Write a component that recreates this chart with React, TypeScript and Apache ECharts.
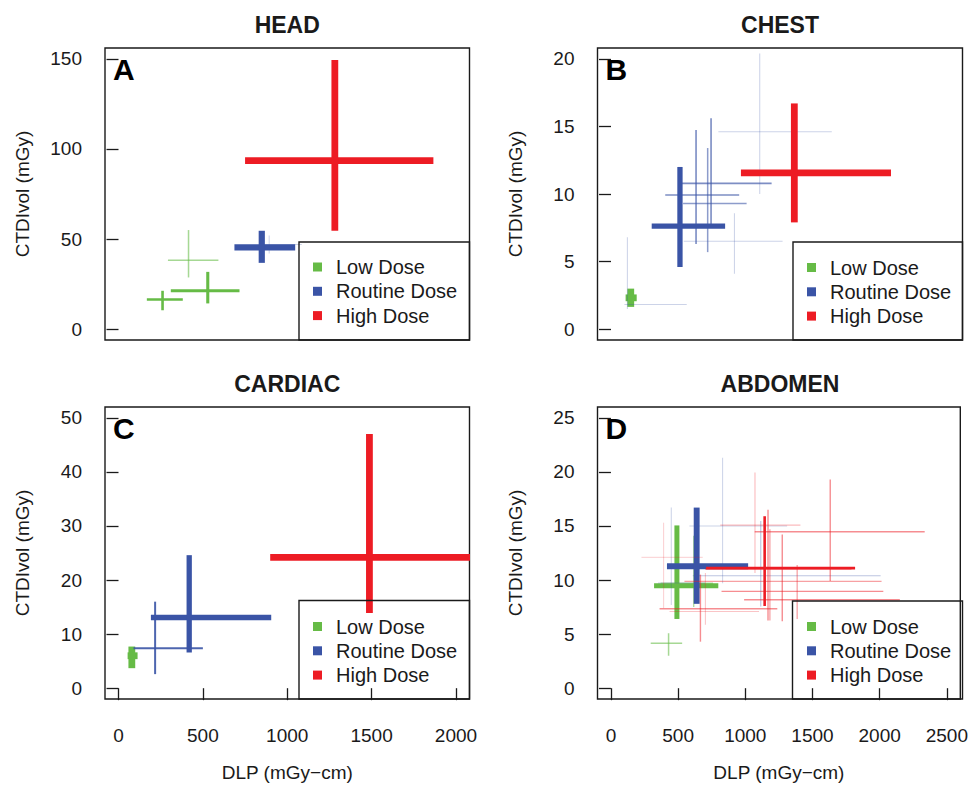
import { useEffect, useRef } from 'react';
import * as echarts from 'echarts';

// Each cross: [DLP median, CTDIvol median, DLP low, DLP high, CTDIvol low, CTDIvol high, relative volume]
type Cross = [number, number, number, number, number, number, number];

const doseNames = ['Low Dose', 'Routine Dose', 'High Dose'];
const doseColors = ['#66BB46', '#3A54A6', '#ED1C24'];
const panelTitles = ['HEAD', 'CHEST', 'CARDIAC', 'ABDOMEN'];
const panelLetters = ['A', 'B', 'C', 'D'];

const xTicksLeft = [0, 500, 1000, 1500, 2000];
const xTicksRight = [0, 500, 1000, 1500, 2000, 2500];
const yTicksHead = [0, 50, 100, 150];
const yTicksChest = [0, 5, 10, 15, 20];
const yTicksCardiac = [0, 10, 20, 30, 40, 50];
const yTicksAbdomen = [0, 5, 10, 15, 20, 25];

const headLow: Cross[] = [
  [415, 38.2, 293, 592, 28.7, 55.0, 0.12],
  [261, 16.5, 168, 381, 10.5, 21.3, 0.3],
  [529, 21.3, 310, 717, 14.3, 31.8, 0.38],
];
const headRoutine: Cross[] = [
  [893, 47.0, 839, 1086, 42.0, 52.0, 0.04],
  [849, 45.4, 687, 1047, 36.8, 54.6, 0.9],
];
const headHigh: Cross[] = [[1282, 93.5, 750, 1866, 54.6, 149.4, 1]];

const chestLow: Cross[] = [[146, 2.32, 108, 190, 1.65, 3.0, 1]];
const chestRoutine: Cross[] = [
  [1100, 14.6, 794, 1633, 10.0, 20.4, 0.04],
  [913, 6.5, 538, 1269, 4.1, 8.57, 0.04],
  [121, 1.83, 99, 560, 1.5, 6.8, 0.04],
  [715, 9.3, 533, 1003, 5.7, 13.4, 0.12],
  [629, 9.93, 401, 948, 6.3, 14.74, 0.14],
  [740, 10.79, 523, 1188, 7.7, 15.6, 0.14],
  [510, 7.63, 301, 844, 4.6, 12.0, 0.75],
];
const chestHigh: Cross[] = [[1356, 11.56, 961, 2071, 7.9, 16.7, 1]];

const cardiacLow: Cross[] = [[79, 6.0, 54, 113, 3.7, 7.7, 1]];
const cardiacRoutine: Cross[] = [
  [217, 7.38, 89, 500, 2.6, 16.0, 0.2],
  [419, 13.07, 192, 905, 6.6, 24.6, 0.75],
];
const cardiacHigh: Cross[] = [[1487, 24.2, 899, 2150, 13.9, 47.0, 1]];

const abdomenLow: Cross[] = [
  [429, 4.15, 296, 530, 3.0, 5.08, 0.12],
  [616, 9.7, 370, 760, 7.5, 14.1, 0.1],
  [491, 9.48, 321, 799, 6.4, 15.05, 0.7],
];
const abdomenRoutine: Cross[] = [
  [831, 15.0, 584, 1311, 9.7, 21.3, 0.04],
  [449, 9.73, 350, 700, 7.7, 16.7, 0.04],
  [1115, 10.4, 609, 2007, 7.56, 15.45, 0.06],
  [638, 11.27, 417, 1021, 7.8, 16.7, 0.85],
];
const abdomenHigh: Cross[] = [
  [392, 12.1, 227, 683, 7.4, 15.3, 0.03],
  [703, 7.1, 436, 1102, 5.86, 10.66, 0.04],
  [1072, 15.08, 814, 1410, 10.66, 19.95, 0.05],
  [1386, 9.88, 547, 2014, 6.4, 11.4, 0.08],
  [1183, 11.0, 700, 1790, 6.25, 14.7, 0.08],
  [1632, 14.47, 1070, 2335, 9.9, 19.3, 0.1],
  [1169, 8.95, 823, 2027, 6.25, 16.5, 0.1],
  [1275, 8.18, 991, 2150, 6.2, 14.2, 0.1],
  [666, 7.34, 362, 1238, 4.3, 10.5, 0.1],
  [1144, 11.1, 708, 1817, 7.6, 15.9, 0.3],
];

const panels = [
  { series: [headLow, headRoutine, headHigh], xTicks: xTicksLeft, yTicks: yTicksHead, showX: false },
  { series: [chestLow, chestRoutine, chestHigh], xTicks: xTicksRight, yTicks: yTicksChest, showX: false },
  { series: [cardiacLow, cardiacRoutine, cardiacHigh], xTicks: xTicksLeft, yTicks: yTicksCardiac, showX: true },
  { series: [abdomenLow, abdomenRoutine, abdomenHigh], xTicks: xTicksRight, yTicks: yTicksAbdomen, showX: true },
];

const layout = [
  { left: 105, top: 48, width: 364.5, height: 292 },
  { left: 597.5, top: 48, width: 365, height: 292 },
  { left: 105, top: 407, width: 364.5, height: 292 },
  { left: 597.5, top: 407, width: 365, height: 292 },
];

const legendPos = [
  { left: 313, top: 257, box: [299, 242] },
  { left: 807, top: 257.5, box: [793, 242] },
  { left: 313, top: 616.5, box: [299, 600.5] },
  { left: 807, top: 616.5, box: [792.5, 601] },
];

const FONT = '"Liberation Sans", Arial, Helvetica, sans-serif';
const INK = '#1a1a1a';

const lineWidthOf = (w: number) => 0.8 + 6 * w;
const opacityOf = (w: number) => Math.min(1, 0.1 + 4 * w);

const expand = (ticks: number[]) => {
  const lo = ticks[0];
  const hi = ticks[ticks.length - 1];
  const pad = (hi - lo) * 0.04;
  return [lo - pad, hi + pad];
};

function renderCross(color: string) {
  return (_params: any, api: any) => {
    const cx = api.value(0);
    const cy = api.value(1);
    const w = api.value(6);
    const c = api.coord([cx, cy]);
    const a = api.coord([api.value(2), cy]);
    const b = api.coord([api.value(3), cy]);
    const d = api.coord([cx, api.value(4)]);
    const e = api.coord([cx, api.value(5)]);
    const style = { stroke: color, lineWidth: lineWidthOf(w), opacity: opacityOf(w), lineCap: 'butt' };
    return {
      type: 'group',
      children: [
        { type: 'line', shape: { x1: a[0], y1: c[1], x2: b[0], y2: c[1] }, style },
        { type: 'line', shape: { x1: c[0], y1: d[1], x2: c[0], y2: e[1] }, style },
      ],
    };
  };
}

export default function App() {
  const ref = useRef<HTMLDivElement>(null);

  useEffect(() => {
    if (!ref.current) return;
    const chart = echarts.init(ref.current, undefined, { renderer: 'svg' });

    const grid = layout.map((g) => ({
      ...g,
      show: true,
      borderColor: INK,
      borderWidth: 1.4,
      backgroundColor: 'transparent',
    }));

    const plain = (v: number) => String(v);

    const xAxis = panels.map((p, i) => {
      const [min, max] = expand(p.xTicks);
      return {
        type: 'value',
        gridIndex: i,
        min,
        max,
        axisLine: { show: false },
        splitLine: { show: false },
        axisTick: { show: p.showX, length: 12, customValues: p.xTicks, lineStyle: { color: INK, width: 1.3 } },
        axisLabel: { show: p.showX, customValues: p.xTicks, formatter: plain, margin: 27, fontSize: 19, color: INK, fontFamily: FONT },
        name: p.showX ? 'DLP (mGy\u2212cm)' : '',
        nameLocation: 'middle',
        nameGap: 64,
        nameTextStyle: { fontSize: 19, color: INK, fontFamily: FONT },
      };
    });

    const yAxis = panels.map((p, i) => {
      const [min, max] = expand(p.yTicks);
      return {
        type: 'value',
        gridIndex: i,
        min,
        max,
        axisLine: { show: false },
        splitLine: { show: false },
        axisTick: { show: true, length: 12, customValues: p.yTicks, lineStyle: { color: INK, width: 1.3 } },
        axisLabel: { customValues: p.yTicks, formatter: plain, margin: 23, fontSize: 19, color: INK, fontFamily: FONT },
        name: 'CTDIvol (mGy)',
        nameLocation: 'middle',
        nameGap: 73,
        nameTextStyle: { fontSize: 19, color: INK, fontFamily: FONT },
      };
    });

    const series: any[] = [];
    panels.forEach((p, i) => {
      p.series.forEach((rows, k) => {
        const sorted = [...rows].sort((u, v) => u[6] - v[6]);
        series.push({
          type: 'custom',
          name: doseNames[k],
          xAxisIndex: i,
          yAxisIndex: i,
          clip: true,
          itemStyle: { color: doseColors[k] },
          encode: { x: [0, 2, 3], y: [1, 4, 5] },
          renderItem: renderCross(doseColors[k]),
          data: sorted,
        });
      });
    });

    const legend = legendPos.map((lp) => ({
      orient: 'vertical',
      left: lp.left,
      top: lp.top,
      padding: 0,
      itemGap: 4.3,
      itemWidth: 9,
      itemHeight: 9,
      icon: 'rect',
      selectedMode: false,
      textStyle: { fontSize: 20, lineHeight: 20, color: INK, fontFamily: FONT, padding: [0, 0, 0, 9] },
      data: doseNames.map((n, k) => ({ name: n, itemStyle: { color: doseColors[k] } })),
    }));

    const graphic: any[] = [];
    layout.forEach((g, i) => {
      graphic.push({
        type: 'text',
        x: g.left + g.width / 2,
        y: g.top - 23,
        style: { text: panelTitles[i], fontSize: 23, fontWeight: 'bold', fontFamily: FONT, fill: INK, align: 'center', verticalAlign: 'middle' },
      });
      graphic.push({
        type: 'text',
        x: g.left + 8,
        y: g.top + 21,
        style: { text: panelLetters[i], fontSize: 30, fontWeight: 'bold', fontFamily: FONT, fill: '#000', align: 'left', verticalAlign: 'middle' },
      });
      const bx = legendPos[i].box[0];
      const by = legendPos[i].box[1];
      graphic.push({
        type: 'rect',
        shape: { x: bx, y: by, width: g.left + g.width - bx, height: g.top + g.height - by },
        style: { fill: 'none', stroke: INK, lineWidth: 1.4 },
        z: 10,
      });
    });

    chart.setOption({
      animation: false,
      backgroundColor: '#ffffff',
      grid,
      xAxis,
      yAxis,
      series,
      legend,
      graphic,
    });

    return () => chart.dispose();
  }, []);

  return (
    <div
      ref={ref}
      style={{ position: 'absolute', left: 0, top: 0, width: 971, height: 797, background: '#fff' }}
    />
  );
}
